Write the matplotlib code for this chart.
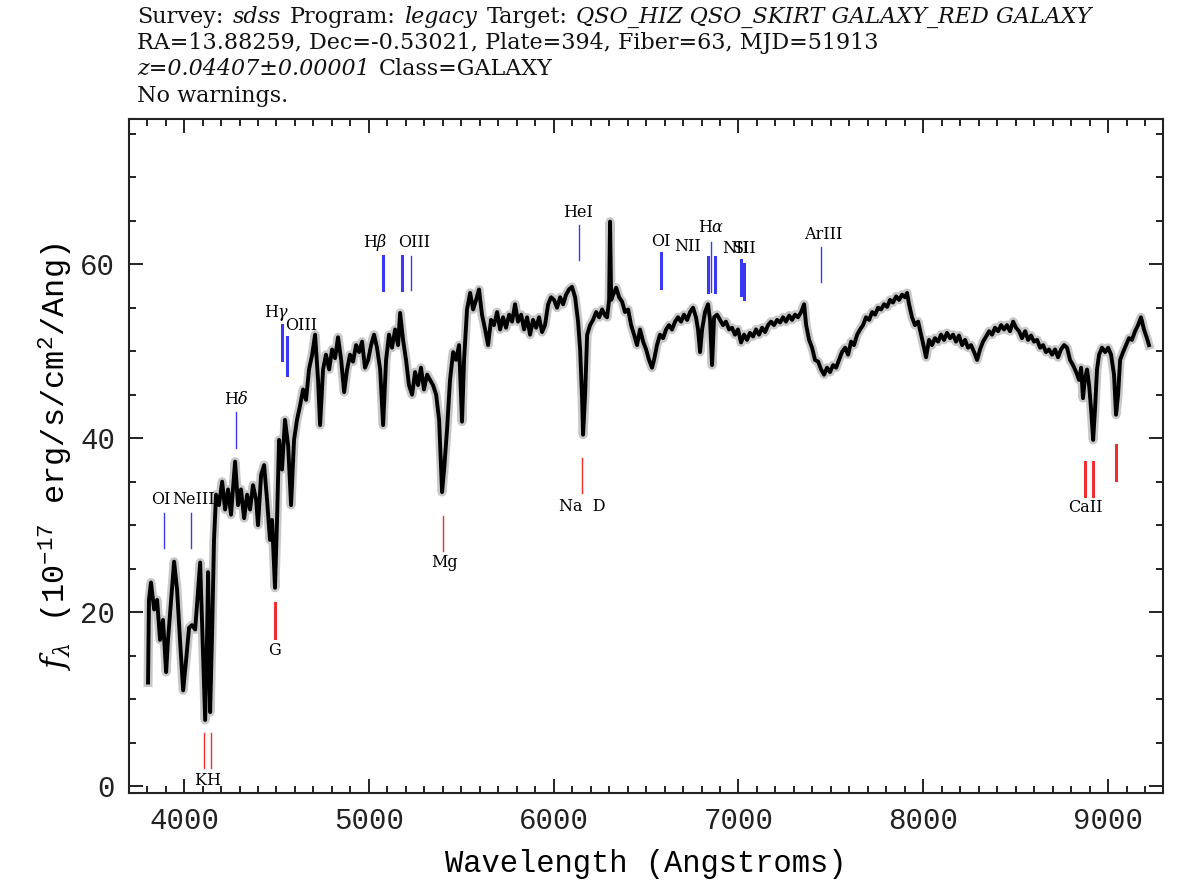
import matplotlib
matplotlib.use("Agg")
import matplotlib.pyplot as plt
from matplotlib.ticker import MultipleLocator

plt.rcParams['mathtext.fontset'] = 'custom'
plt.rcParams['mathtext.rm'] = 'Liberation Mono'
plt.rcParams['mathtext.it'] = 'DejaVu Serif:italic'

# spectrum (wavelength in Angstroms, flux in 1e-17 erg/s/cm2/A)
wave = [3805, 3810, 3821, 3838, 3854, 3870, 3886, 3903, 3913, 3930, 3946, 3962, 3978, 3995,
        4011, 4027, 4043, 4060, 4076, 4087, 4097, 4114, 4124, 4130, 4141, 4152, 4162, 4173,
        4189, 4206, 4222, 4238, 4254, 4276, 4292, 4308, 4325, 4341, 4357, 4373, 4390, 4400,
        4417, 4433, 4449, 4465, 4476, 4492, 4503, 4514, 4530, 4546, 4563, 4579, 4595, 4611,
        4628, 4644, 4660, 4676, 4693, 4709, 4725, 4736, 4752, 4768, 4785, 4801, 4817, 4833,
        4850, 4866, 4882, 4898, 4914, 4931, 4947, 4963, 4979, 4996, 5012, 5028, 5044, 5061,
        5077, 5093, 5109, 5125, 5142, 5158, 5169, 5185, 5201, 5217, 5234, 5250, 5266, 5282,
        5298, 5315, 5331, 5347, 5364, 5380, 5396, 5407, 5423, 5439, 5456, 5472, 5488, 5504,
        5515, 5531, 5548, 5564, 5580, 5596, 5612, 5629, 5645, 5661, 5677, 5694, 5710, 5726,
        5742, 5759, 5775, 5791, 5807, 5824, 5840, 5856, 5872, 5888, 5905, 5921, 5937, 5953,
        5970, 5986, 6002, 6018, 6035, 6051, 6067, 6083, 6099, 6116, 6132, 6143, 6154, 6159,
        6170, 6181, 6197, 6213, 6230, 6246, 6262, 6278, 6289, 6300, 6305, 6311, 6322, 6338,
        6354, 6370, 6386, 6403, 6419, 6435, 6451, 6467, 6484, 6500, 6516, 6532, 6543, 6559,
        6575, 6592, 6608, 6624, 6640, 6657, 6673, 6689, 6705, 6722, 6738, 6754, 6770, 6781,
        6792, 6803, 6819, 6835, 6846, 6857, 6868, 6884, 6900, 6916, 6932, 6949, 6965, 6981,
        6997, 7014, 7030, 7046, 7062, 7079, 7095, 7111, 7128, 7144, 7160, 7176, 7192, 7209,
        7225, 7241, 7257, 7274, 7290, 7306, 7322, 7339, 7355, 7366, 7382, 7398, 7414, 7431,
        7447, 7463, 7479, 7495, 7512, 7528, 7544, 7560, 7577, 7593, 7609, 7625, 7642, 7658,
        7674, 7690, 7707, 7723, 7739, 7755, 7771, 7788, 7804, 7820, 7836, 7853, 7869, 7885,
        7901, 7912, 7923, 7939, 7955, 7972, 7988, 8004, 8015, 8031, 8047, 8063, 8080, 8096,
        8112, 8128, 8145, 8161, 8177, 8193, 8210, 8226, 8242, 8258, 8275, 8291, 8307, 8323,
        8340, 8356, 8372, 8388, 8405, 8421, 8437, 8453, 8469, 8486, 8502, 8518, 8534, 8551,
        8567, 8583, 8599, 8616, 8632, 8648, 8664, 8680, 8697, 8713, 8729, 8745, 8762, 8778,
        8794, 8810, 8827, 8843, 8854, 8864, 8875, 8886, 8897, 8908, 8919, 8929, 8940, 8951,
        8967, 8984, 9000, 9016, 9032, 9043, 9054, 9065, 9081, 9097, 9113, 9129, 9146, 9162,
        9178, 9194, 9210, 9221]
flux = [11.9, 21.4, 23.4, 20.3, 21.4, 16.8, 19.1, 13.1, 16.8, 21.4, 25.8, 22.6, 16.8, 11.0,
        14.5, 18.2, 18.5, 18.0, 22.6, 25.7, 19.1, 7.6, 16.8, 24.6, 8.5, 18.0, 28.3, 33.5,
        32.3, 35.0, 31.8, 34.1, 31.2, 37.3, 32.3, 34.1, 30.8, 33.5, 31.8, 34.6, 32.9, 30.0,
        35.8, 36.9, 32.9, 28.3, 30.6, 22.8, 30.6, 39.8, 36.4, 42.1, 39.2, 32.3, 39.8, 42.1,
        43.8, 45.6, 44.4, 47.9, 49.6, 51.9, 46.7, 41.5, 47.9, 49.6, 47.9, 50.2, 49.2, 51.6,
        49.0, 45.3, 47.9, 49.6, 48.8, 50.7, 49.9, 51.1, 48.1, 49.0, 50.7, 51.9, 50.4, 47.9,
        41.5, 49.0, 51.9, 50.4, 52.5, 50.7, 54.4, 51.3, 49.0, 46.1, 45.0, 47.6, 46.1, 48.1,
        45.6, 47.3, 46.7, 46.1, 45.0, 42.1, 33.8, 36.4, 41.0, 46.7, 49.9, 49.0, 50.7, 41.9,
        49.0, 54.8, 56.7, 54.8, 55.9, 57.1, 54.2, 52.5, 50.7, 53.6, 53.0, 54.5, 52.5, 53.9,
        52.7, 54.2, 53.4, 55.4, 53.4, 54.2, 52.5, 53.9, 51.9, 53.6, 52.7, 53.9, 52.2, 53.0,
        55.4, 56.2, 55.9, 55.0, 56.2, 55.4, 56.5, 57.1, 57.4, 56.2, 53.4, 50.2, 44.4, 40.4,
        45.0, 51.9, 53.0, 53.6, 54.5, 53.9, 54.8, 54.1, 53.9, 55.9, 64.9, 55.9, 56.5, 57.3,
        56.2, 55.7, 54.5, 54.8, 53.0, 51.9, 50.7, 52.5, 51.1, 50.2, 49.0, 48.1, 49.0, 50.7,
        51.9, 51.5, 52.5, 53.0, 52.5, 53.4, 53.9, 53.4, 54.2, 53.6, 54.5, 55.0, 53.9, 52.5,
        49.9, 52.5, 54.5, 55.4, 53.6, 48.4, 53.9, 54.2, 53.6, 53.0, 53.4, 52.5, 52.7, 51.9,
        52.5, 51.0, 51.9, 51.3, 52.1, 51.7, 52.5, 51.9, 52.7, 52.2, 53.0, 53.4, 53.0, 53.6,
        53.3, 53.9, 53.4, 54.1, 53.6, 54.2, 53.9, 54.5, 55.4, 53.0, 51.3, 50.4, 49.0, 48.8,
        47.9, 47.3, 48.1, 47.6, 48.4, 48.1, 49.0, 49.9, 50.4, 49.6, 51.1, 50.7, 51.9, 52.5,
        53.0, 53.9, 53.6, 54.5, 54.2, 55.0, 54.8, 55.4, 55.1, 55.9, 55.6, 56.3, 55.9, 56.5,
        56.2, 56.7, 55.4, 53.9, 53.0, 53.4, 51.9, 50.4, 49.3, 51.3, 50.7, 51.5, 51.1, 51.9,
        51.3, 52.1, 51.5, 51.9, 51.1, 51.8, 50.7, 51.3, 50.4, 50.7, 49.9, 49.0, 50.2, 51.1,
        51.7, 52.3, 51.9, 52.7, 52.3, 53.0, 52.5, 53.0, 52.3, 53.4, 52.7, 52.3, 51.5, 52.3,
        51.3, 51.8, 51.1, 51.3, 50.4, 50.7, 49.9, 50.2, 49.6, 50.2, 49.3, 50.2, 50.7, 50.4,
        49.0, 48.4, 47.6, 46.7, 48.1, 44.6, 46.9, 47.9, 46.1, 43.3, 39.8, 43.3, 47.9, 49.6,
        50.4, 49.9, 50.4, 49.6, 47.3, 42.7, 45.0, 49.0, 49.9, 50.7, 51.5, 51.3, 52.3, 53.0,
        53.9, 52.5, 51.5, 50.7]

# emission lines (blue): observed wavelength, tick bottom, tick top
em_wave = [3891, 4040, 4283, 4532, 4555, 5075, 5178, 5228, 6135, 6578, 6837, 6852, 6873, 7012, 7028, 7449]
em_lo = [27.4, 27.4, 38.9, 49.0, 47.3, 57.0, 57.0, 57.0, 60.5, 57.3, 56.8, 56.8, 56.8, 56.5, 56.0, 58.0]
em_hi = [31.4, 31.4, 43.0, 53.0, 51.6, 61.0, 61.0, 61.0, 64.5, 61.3, 60.8, 62.6, 60.8, 60.5, 60.0, 62.0]
em_thick = [0, 0, 0, 1, 1, 1, 1, 0, 0, 1, 1, 0, 1, 1, 1, 0]

# absorption lines (red)
ab_wave = [4107, 4144, 4494, 5403, 6152, 8873, 8918, 9044]
ab_lo = [2.1, 2.1, 17.0, 27.0, 33.7, 33.3, 33.3, 35.2]
ab_hi = [6.1, 6.1, 21.0, 31.0, 37.7, 37.3, 37.3, 39.2]
ab_thick = [0, 0, 1, 0, 0, 1, 1, 1]

# line names and where they are written
em_names = ['OI', 'NeIII', r'H$\delta$', r'H$\gamma$', 'OIII', r'H$\beta$', 'OIII', 'HeI',
            'OI', 'NII', r'H$\alpha$', 'NII', 'SII', 'ArIII']
em_name_x = [3876, 4050, 4281, 4503, 4633, 5033, 5245, 6132, 6581, 6722, 6852, 6985, 7032, 7458]
em_name_y = [32.9, 32.9, 44.5, 54.4, 52.9, 62.5, 62.5, 65.9, 62.6, 62.0, 64.2, 61.8, 61.8, 63.4]
ab_names = ['K', 'H', 'G', 'Mg', 'Na  D', 'CaII']
ab_name_x = [4087, 4157, 4492, 5407, 6154, 8875]
ab_name_y = [0.6, 0.6, 15.6, 25.7, 32.2, 32.0]

header = [
    [('Survey:', 'normal'), ('sdss', 'italic'), ('Program:', 'normal'), ('legacy', 'italic'),
     ('Target:', 'normal'), ('QSO_HIZ QSO_SKIRT GALAXY_RED GALAXY', 'italic')],
    [('RA=13.88259, Dec=-0.53021, Plate=394, Fiber=63, MJD=51913', 'normal')],
    [('z=0.04407\u00b10.00001', 'italic'), ('Class=GALAXY', 'normal')],
    [('No warnings.', 'normal')],
]

W, H = 1177, 888
fig = plt.figure(figsize=(W / 100, H / 100), dpi=100)
ax = fig.add_axes([129 / W, 1 - 793 / H, (1163 - 129) / W, (793 - 119) / H])

ax.plot(wave, flux, color='#c8c8c8', lw=6.5, solid_joinstyle='round', zorder=2)
ax.plot(wave, flux, color='black', lw=2.8, zorder=3)

for w, lo, hi, th in zip(em_wave, em_lo, em_hi, em_thick):
    ax.plot([w, w], [lo, hi], color='#3a3af5', lw=2.2 if th else 1.0, zorder=4)
for w, lo, hi, th in zip(ab_wave, ab_lo, ab_hi, ab_thick):
    ax.plot([w, w], [lo, hi], color='#f03030', lw=2.2 if th else 1.0, zorder=4)

for s, x, y in zip(em_names, em_name_x, em_name_y):
    ax.text(x, y, s, ha='center', va='center', fontsize=11.5, family='DejaVu Serif', zorder=5)
for s, x, y in zip(ab_names, ab_name_x, ab_name_y):
    ax.text(x, y, s, ha='center', va='center', fontsize=11.5, family='DejaVu Serif', zorder=5)

ax.set_xlim(3702, 9297)
ax.set_ylim(-0.8, 76.7)
ax.xaxis.set_major_locator(MultipleLocator(1000))
ax.xaxis.set_minor_locator(MultipleLocator(100))
ax.yaxis.set_major_locator(MultipleLocator(20))
ax.yaxis.set_minor_locator(MultipleLocator(5))
ax.tick_params(which='both', direction='in', top=True, right=True, width=1.4, colors='#222222')
ax.tick_params(which='major', length=10, labelsize=21, pad=10)
ax.tick_params(which='minor', length=5)
for lab in ax.get_xticklabels() + ax.get_yticklabels():
    lab.set_family('Liberation Mono')
for sp in ax.spines.values():
    sp.set_linewidth(1.5)
    sp.set_color('#222222')

ax.set_xlabel('Wavelength (Angstroms)', family='Liberation Mono', fontsize=22, labelpad=10)
ax.set_ylabel(r'$f_\lambda$ (10$^{-17}$ erg/s/cm$^2$/Ang)', family='Liberation Mono',
              fontsize=23, labelpad=4)

# header lines, built piece by piece so italic and upright runs sit side by side
renderer = fig.canvas.get_renderer()
line_y = [17, 43, 69, 96]
space = 9
for parts, yy in zip(header, line_y):
    x = 137
    for s, style in parts:
        t = fig.text(x / W, 1 - yy / H, s, fontstyle=style, family='DejaVu Serif',
                     fontsize=16, va='center', ha='left', color='#111111')
        bb = t.get_window_extent(renderer)
        x = bb.x1 + space

fig.savefig('out.png', dpi=100)
